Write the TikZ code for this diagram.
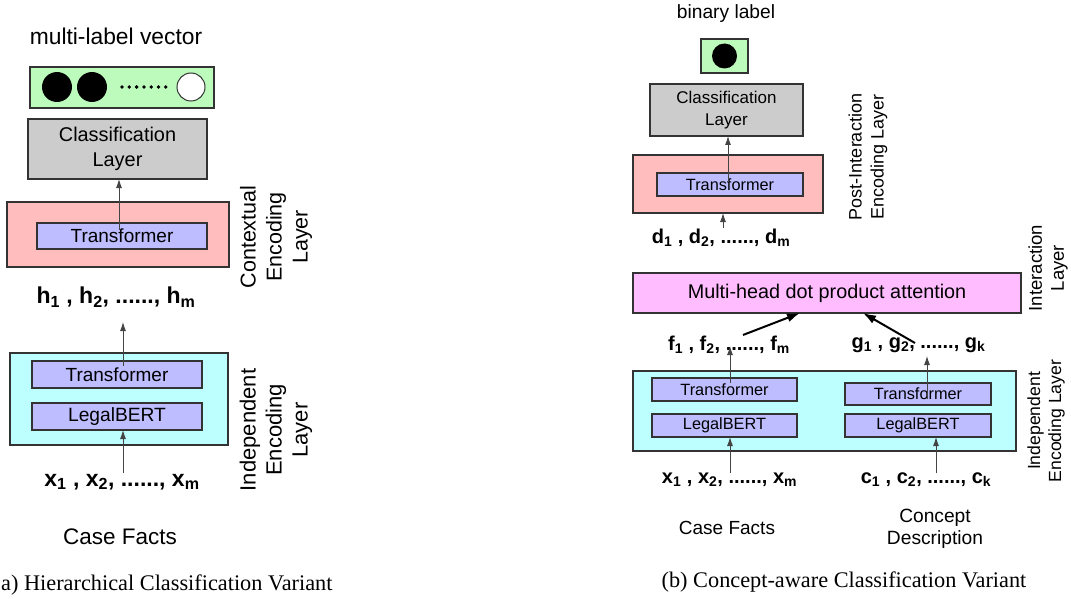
\documentclass[tikz,border=0pt]{standalone}
\usepackage{fontspec}
\setmainfont{Liberation Sans}
\newfontfamily\capfont{Liberation Serif}
\usetikzlibrary{arrows.meta}
\definecolor{linec}{HTML}{333333}
\definecolor{arrc}{HTML}{444444}
\definecolor{greenf}{HTML}{BDFBBD}
\definecolor{grayf}{HTML}{CCCCCC}
\definecolor{pinkf}{HTML}{FFBDBD}
\definecolor{lavf}{HTML}{BDBDFF}
\definecolor{cyanf}{HTML}{BDFFFF}
\definecolor{magf}{HTML}{FFBDFF}
\newcommand{\seqlab}[4]{#1\textsubscript{#2} , #1\textsubscript{#3}, ......, #1\textsubscript{#4}}
\tikzset{
  box/.style={draw=linec, line width=1.1pt, inner sep=0pt, outer sep=0pt},
  arr/.style={draw=arrc, line width=0.9pt, -{Latex[length=9pt,width=6pt]}},
  thickarr/.style={draw=black, line width=2pt, -{Latex[length=13pt,width=9pt]}},
  lbl/.style={inner sep=0pt, align=center},
  seqL/.style={lbl, font=\fontsize{23}{27}\selectfont\bfseries},
  seqR/.style={lbl, font=\fontsize{20}{24}\selectfont\bfseries},
  caption/.style={lbl, font=\capfont\fontsize{22.3}{26}\selectfont},
}
\begin{document}
\begin{tikzpicture}[x=1pt,y=-1pt]
\useasboundingbox (0,0) rectangle (1071,599);
% ================= left panel =================
\node[lbl, font=\fontsize{22.8}{27}\selectfont] (mlv) at (116,36) {multi-label vector};
\node[box, fill=greenf, minimum width=184pt, minimum height=41pt] (gbA) at (122,87.5) {};
\fill[black] (57,87) circle (15);
\fill[black] (92,87) circle (15);
\foreach \i in {0,...,6} \fill[black] (122+7.3*\i,87) circle (1.9);
\draw[linec, line width=1pt, fill=white] (191,87) circle (14);
\node[box, fill=grayf, minimum width=179pt, minimum height=60pt, align=center,
      font=\fontsize{19.9}{25}\selectfont] (clsA) at (117.5,149) {Classification\\Layer};
\node[box, fill=pinkf, minimum width=222pt, minimum height=65pt] (ctxA) at (118,234.5) {};
\node[box, fill=lavf, minimum width=170pt, minimum height=26pt,
      font=\fontsize{19}{22}\selectfont] (trA1) at (122,236) {Transformer};
\coordinate (trA1s) at (119,230);
\draw[arr] (trA1s) -- (clsA.south -| trA1s);
\node[seqL] (hA) at (116,297) {\seqlab{h}{1}{2}{m}};
\node[box, fill=cyanf, minimum width=218pt, minimum height=92pt] (indA) at (119,399) {};
\node[box, fill=lavf, minimum width=170pt, minimum height=27pt,
      font=\fontsize{19}{22}\selectfont] (trA2) at (117,374.5) {Transformer};
\node[box, fill=lavf, minimum width=170pt, minimum height=27pt,
      font=\fontsize{19.2}{22}\selectfont] (lbA) at (117,416.5) {LegalBERT};
\coordinate (trA2s) at (123,366);
\coordinate (hAe) at (123,322);
\draw[arr] (trA2s) -- (hAe);
\node[seqL] (xA) at (122,482) {\seqlab{x}{1}{2}{m}};
\coordinate (xAs) at (123,473);
\draw[arr] (xAs) -- (lbA.south -| xAs);
\node[lbl, font=\fontsize{22.5}{27}\selectfont] (cfA) at (120,537) {Case Facts};
\node[lbl, rotate=90, font=\fontsize{21.5}{26}\selectfont] (ctxlab) at (276,237) {Contextual\\Encoding\\Layer};
\node[lbl, rotate=90, font=\fontsize{22}{26}\selectfont] (indlabA) at (276,430) {Independent\\Encoding\\Layer};
\node[caption, anchor=west] (capA) at (1,585) {a) Hierarchical Classification Variant};
% ================= right panel =================
\node[lbl, font=\fontsize{19.2}{23}\selectfont] (bl) at (726,14) {binary label};
\node[box, fill=greenf, minimum width=47pt, minimum height=34pt] (gbB) at (724.5,56) {};
\fill[black] (gbB.center) circle (12.5);
\node[box, fill=grayf, minimum width=153pt, minimum height=52pt, align=center,
      font=\fontsize{17}{22}\selectfont] (clsB) at (726.5,110) {Classification\\Layer};
\node[box, fill=pinkf, minimum width=190pt, minimum height=58pt] (postB) at (728,184) {};
\node[box, fill=lavf, minimum width=146pt, minimum height=23pt,
      font=\fontsize{16.3}{20}\selectfont] (trB1) at (730,184.5) {Transformer};
\coordinate (trB1s) at (728,182);
\draw[arr] (trB1s) -- (clsB.south -| trB1s);
\node[seqR] (dB) at (721,238) {\seqlab{d}{1}{2}{m}};
\coordinate (dBs) at (723,228);
\draw[arr] (dBs) -- (postB.south -| dBs);
\node[lbl, rotate=90, font=\fontsize{18}{22}\selectfont] (postlab) at (868,157) {Post-Interaction\\Encoding Layer};
\node[box, fill=magf, minimum width=388pt, minimum height=40pt,
      font=\fontsize{19.8}{23}\selectfont] (attB) at (827,293) {Multi-head dot product attention};
\node[lbl, rotate=90, font=\fontsize{18.5}{22}\selectfont] (intlab) at (1048,268) {Interaction\\Layer};
\node[seqR] (fB) at (729,345) {\seqlab{f}{1}{2}{m}};
\node[seqR] (gB) at (918.5,345) {\seqlab{g}{1}{2}{k}};
\coordinate (fBs) at (743,335);
\coordinate (gBs) at (915,343);
\draw[thickarr] (fBs) -- (attB.south -| 800,0);
\draw[thickarr] (gBs) -- (attB.south -| 863,0);
\node[box, fill=cyanf, minimum width=383pt, minimum height=80pt] (indB) at (824.5,411) {};
\node[box, fill=lavf, minimum width=145pt, minimum height=23pt,
      font=\fontsize{16.3}{20}\selectfont] (trL) at (724.5,389.5) {Transformer};
\node[box, fill=lavf, minimum width=145pt, minimum height=23pt,
      font=\fontsize{16.3}{20}\selectfont] (lbL) at (724.5,425.5) {LegalBERT};
\node[box, fill=lavf, minimum width=146pt, minimum height=22pt,
      font=\fontsize{16.3}{20}\selectfont] (trR) at (918,394) {Transformer};
\node[box, fill=lavf, minimum width=146pt, minimum height=23pt,
      font=\fontsize{16.3}{20}\selectfont] (lbR) at (918,425.5) {LegalBERT};
\coordinate (trLs) at (730,383);
\coordinate (fBe) at (730,346);
\draw[arr] (trLs) -- (fBe);
\coordinate (trRs) at (927,399);
\coordinate (gBe) at (927,356);
\draw[arr] (trRs) -- (gBe);
\node[seqR] (xB) at (729.5,480) {\seqlab{x}{1}{2}{m}};
\node[seqR] (cB) at (926,480) {\seqlab{c}{1}{2}{k}};
\coordinate (xBs) at (730,473);
\coordinate (cBs) at (936,473);
\draw[arr] (xBs) -- (lbL.south -| xBs);
\draw[arr] (cBs) -- (lbR.south -| cBs);
\node[lbl, font=\fontsize{19}{23}\selectfont] (cfB) at (727,528) {Case Facts};
\node[lbl, font=\fontsize{19.2}{22}\selectfont] (cdB) at (935,529) {Concept\\Description};
\node[lbl, rotate=90, font=\fontsize{17.6}{21}\selectfont] (indlabB) at (1046,421) {Independent\\Encoding Layer};
\node[caption] (capB) at (844,582) {(b) Concept-aware Classification Variant};
\end{tikzpicture}
\end{document}
